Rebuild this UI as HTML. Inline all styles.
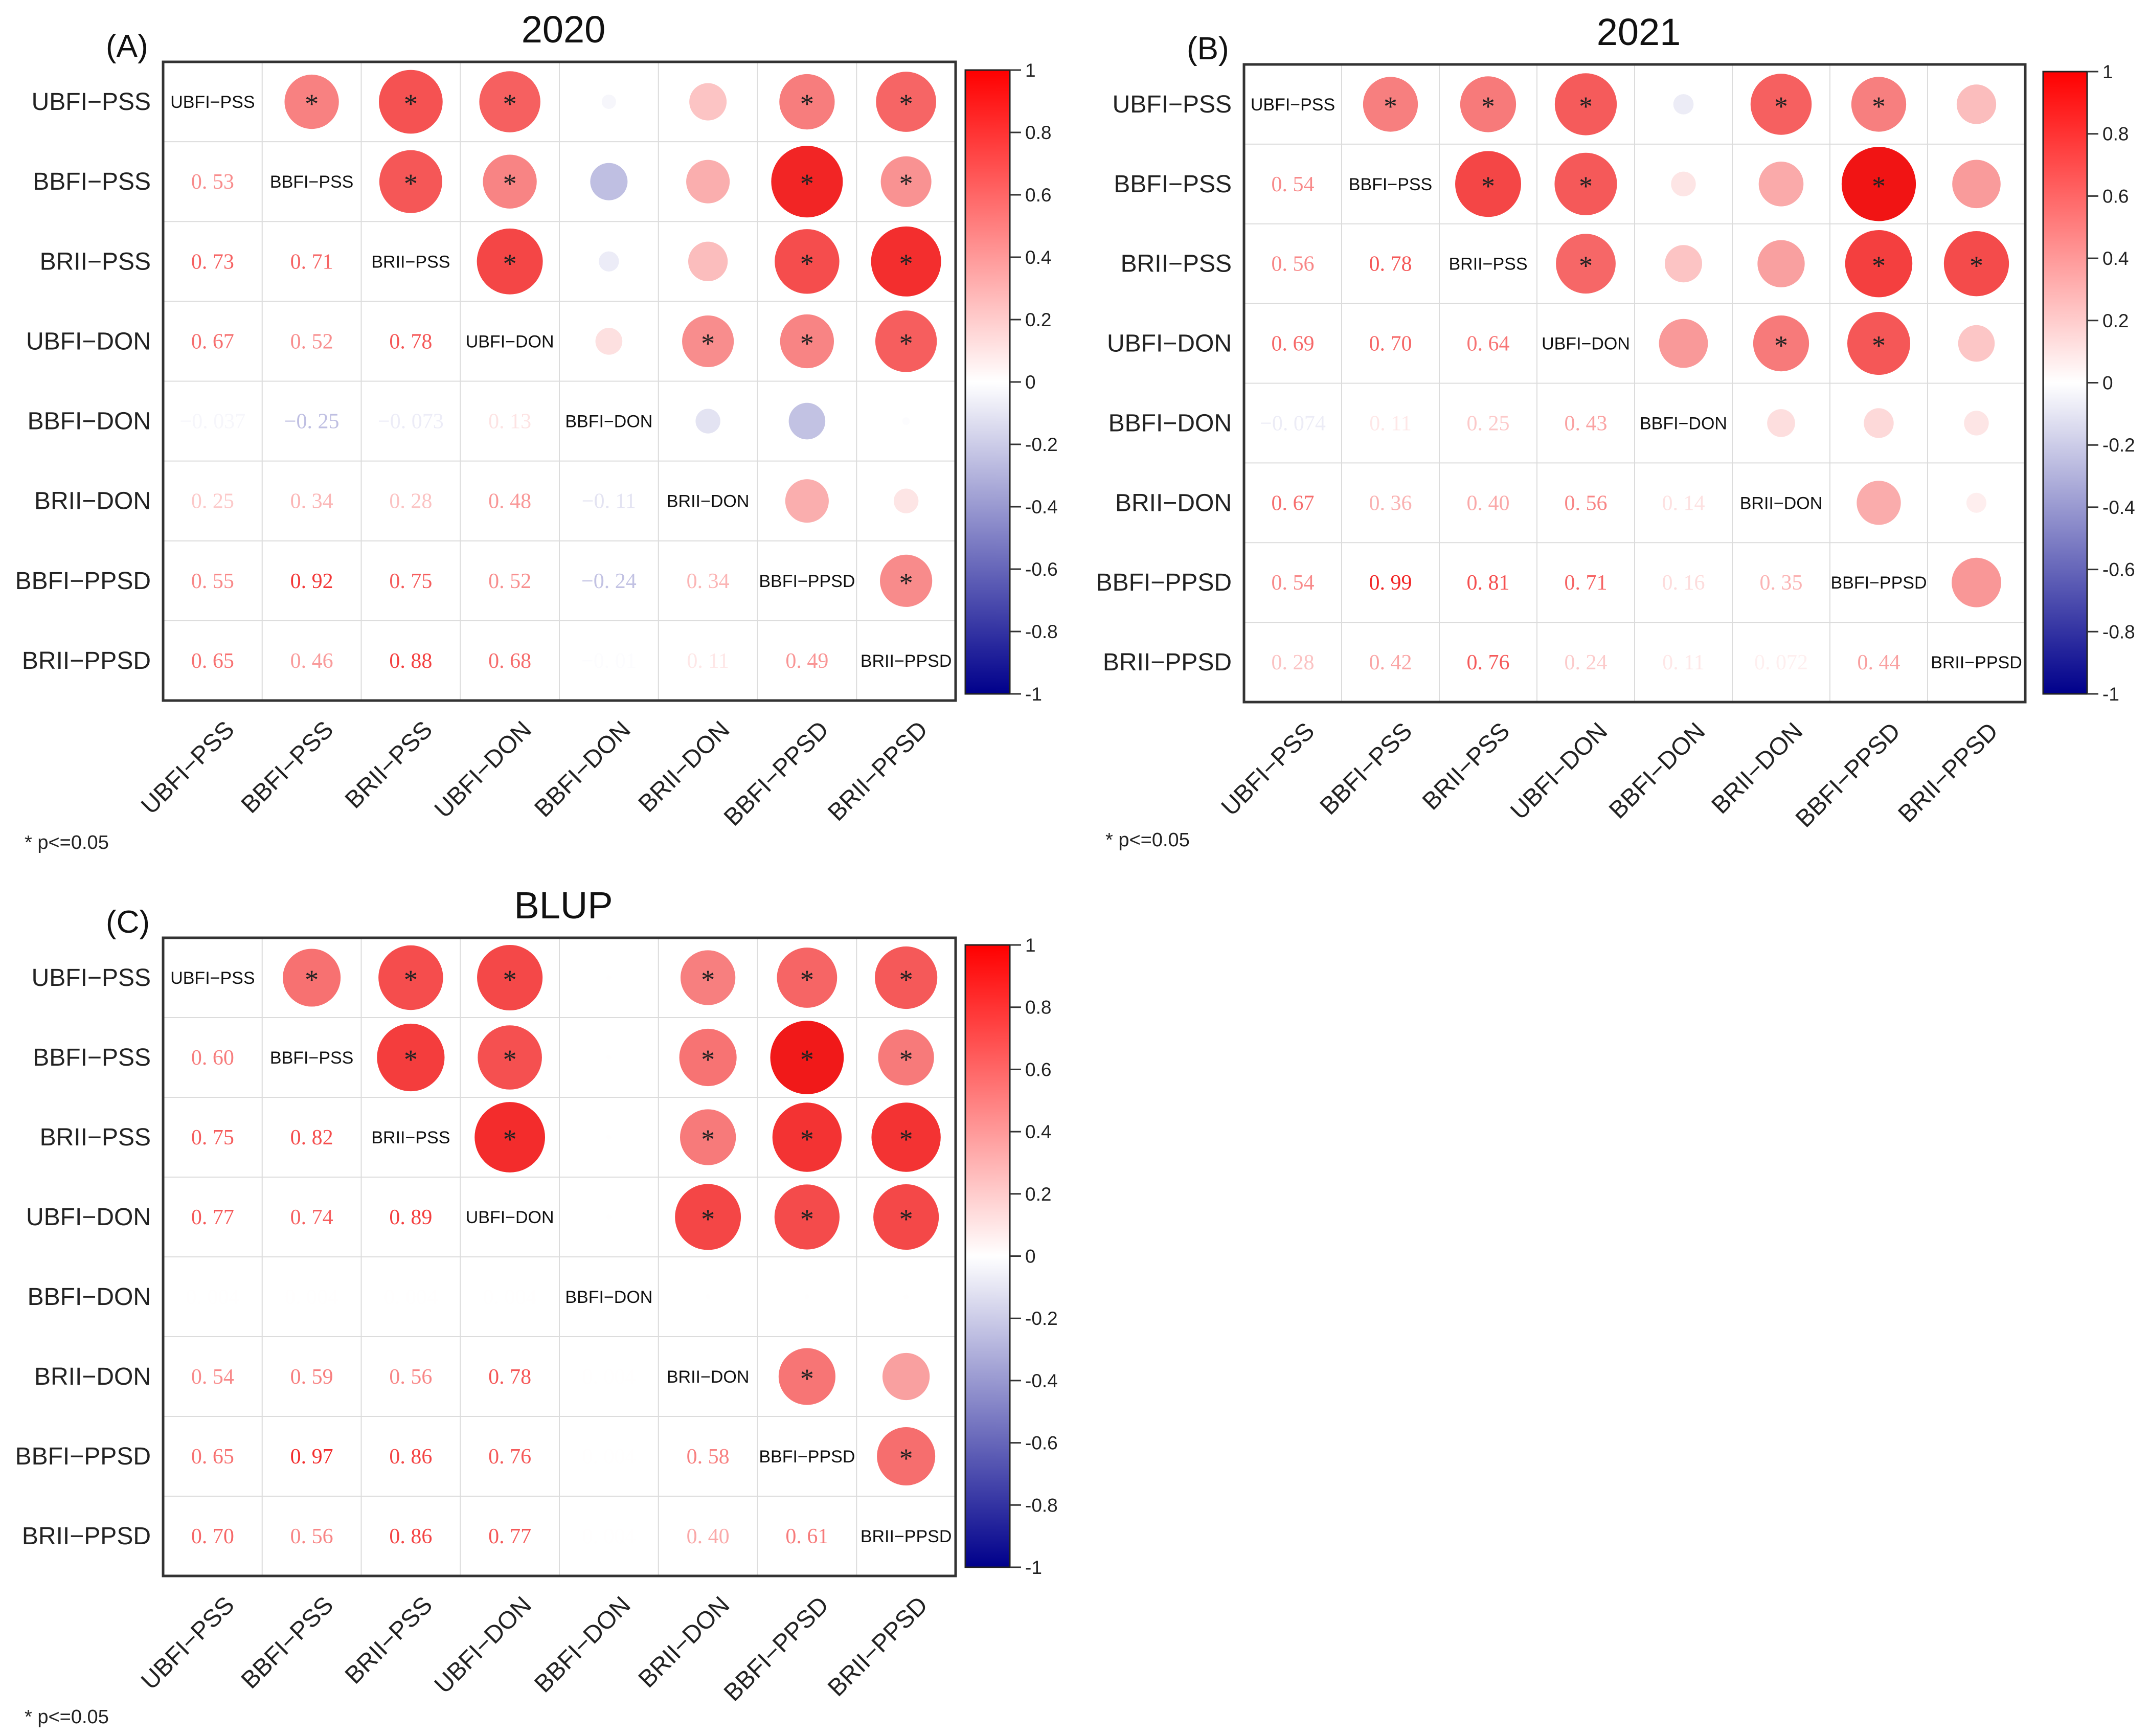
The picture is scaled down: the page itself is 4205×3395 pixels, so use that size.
<!DOCTYPE html>
<html><head><meta charset="utf-8"><style>
html,body{margin:0;padding:0;background:#fff;}
svg{display:block;font-family:"Liberation Sans",sans-serif;}
</style></head><body>
<svg id="fig" width="4205" height="3395" viewBox="0 0 4205 3395" xmlns="http://www.w3.org/2000/svg">
<defs>
<linearGradient id="cbgrad" x1="0" y1="0" x2="0" y2="1">
<stop offset="0" stop-color="#ff0000"/><stop offset="0.5" stop-color="#ffffff"/><stop offset="1" stop-color="#00008b"/>
</linearGradient>
</defs>
</svg>
<script>
const traits = ["UBFI−PSS","BBFI−PSS","BRII−PSS","UBFI−DON","BBFI−DON","BRII−DON","BBFI−PPSD","BRII−PPSD"];
const cbTicks = [1,0.8,0.6,0.4,0.2,0,-0.2,-0.4,-0.6,-0.8,-1];
// lower-triangle correlations (row i, cols 0..i-1)
const corr2020 = [[],[0.53],[0.73,0.71],[0.67,0.52,0.78],[-0.037,-0.25,-0.073,0.13],[0.25,0.34,0.28,0.48,-0.11],[0.55,0.92,0.75,0.52,-0.24,0.34],[0.65,0.46,0.88,0.68,-0.010,0.11,0.49]];
const corr2021 = [[],[0.54],[0.56,0.78],[0.69,0.70,0.64],[-0.074,0.11,0.25,0.43],[0.67,0.36,0.40,0.56,0.14],[0.54,0.99,0.81,0.71,0.16,0.35],[0.28,0.42,0.76,0.24,0.11,0.072,0.44]];
const corrBLUP = [[],[0.60],[0.75,0.82],[0.77,0.74,0.89],[0.004,0.004,0.004,0.004],[0.54,0.59,0.56,0.78,0.004],[0.65,0.97,0.86,0.76,0.004,0.58],[0.70,0.56,0.86,0.77,0.004,0.40,0.61]];
// significant pairs [row, col] in upper triangle
const sig2020 = [[0,1],[0,2],[0,3],[0,6],[0,7],[1,2],[1,3],[1,6],[1,7],[2,3],[2,6],[2,7],[3,5],[3,6],[3,7],[6,7]];
const sig2021 = [[0,1],[0,2],[0,3],[0,5],[0,6],[1,2],[1,3],[1,6],[2,3],[2,6],[2,7],[3,5],[3,6]];
const sigBLUP = [[0,1],[0,2],[0,3],[0,5],[0,6],[0,7],[1,2],[1,3],[1,5],[1,6],[1,7],[2,3],[2,5],[2,6],[2,7],[3,5],[3,6],[3,7],[5,6],[6,7]];

const NS="http://www.w3.org/2000/svg";
const svg=document.getElementById('fig');
function mk(tag,attrs,parent){const e=document.createElementNS(NS,tag);for(const k in attrs)e.setAttribute(k,attrs[k]);(parent||svg).appendChild(e);return e;}
function color(v,lite){v=Math.max(-1,Math.min(1,v));
 if(v>=0){const a=v*(lite?0.85:0.93);const g=Math.round(255*(1-a));return `rgb(${Math.round(255-15*a)},${g},${g})`;}
 const a=-v;return `rgb(${Math.round(255*(1-a))},${Math.round(255*(1-a))},${Math.round(255-(255-139)*a)})`;}
function fmt(v){const s=Math.abs(v)<0.1?v.toFixed(3).replace(/0$/,''):v.toFixed(2);return s.replace('-','−').replace('.', '. ');}

const panels=[
 {id:'a',tag:'(A)',title:'2020',x:319,y:121,w:1550,h:1249,cb:{x:1888,y:137,w:87,h:1220},data:corr2020,sig:sig2020,note:{x:48,y:1660}},
 {id:'b',tag:'(B)',title:'2021',x:2433,y:126,w:1528,h:1247,cb:{x:3996,y:140,w:86,h:1217},data:corr2021,sig:sig2021,note:{x:2162,y:1655}},
 {id:'c',tag:'(C)',title:'BLUP',x:319,y:1834,w:1550,h:1248,cb:{x:1888,y:1848,w:87,h:1217},data:corrBLUP,sig:sigBLUP,note:{x:48,y:3370}}
];
panels.forEach(p=>{
 const g=mk('g',{});
 
 
 const cw=p.w/8, ch=p.h/8;
 const xc=j=>p.x+cw*(j+0.5), yc=i=>p.y+ch*(i+0.5);
 const val=(i,j)=>i>j?p.data[i][j]:p.data[j][i];
 const t=mk('text',{x:p.x+p.w/2+8,y:p.y-38,'font-size':74,'text-anchor':'middle',fill:'#111'},g);t.textContent=p.title;
 
 const tg=mk('text',{x:p.x-112,y:p.y-10,'font-size':62,fill:'#111'},g);tg.textContent=p.tag;
 
 for(let k=1;k<8;k++){
  mk('line',{x1:p.x+cw*k,y1:p.y,x2:p.x+cw*k,y2:p.y+p.h,stroke:'#dcdcdc','stroke-width':2},g);
  mk('line',{x1:p.x,y1:p.y+ch*k,x2:p.x+p.w,y2:p.y+ch*k,stroke:'#dcdcdc','stroke-width':2},g);
 }
 for(let i=0;i<8;i++){
  const rl=mk('text',{x:p.x-24,y:yc(i)+16,'font-size':48,'text-anchor':'end',fill:'#222'},g);rl.textContent=traits[i];
  
  const xl=mk('text',{x:0,y:0,'font-size':48,'text-anchor':'end',fill:'#222',transform:`translate(${xc(i)+45},${p.y+p.h+60}) rotate(-45)`},g);xl.textContent=traits[i];
  
  const dl=mk('text',{x:xc(i),y:yc(i)+12,'font-size':34,'text-anchor':'middle',fill:'#111'},g);dl.textContent=traits[i];
  
  for(let j=0;j<8;j++){
   if(j<i){
    const v=val(i,j);
    const tv=mk('text',{x:xc(j),y:yc(i)+14,'font-size':42,'text-anchor':'middle',fill:color(v,true),'font-family':'"Liberation Serif",serif'},g);tv.textContent=fmt(v);
    
   } else if(j>i){
    const v=val(i,j);
    const c=mk('circle',{cx:xc(j),cy:yc(i),r:73*Math.sqrt(Math.abs(v)),fill:color(v)},g);
    
   }
  }
 }
 p.sig.forEach(([i,j])=>{
  const s=mk('text',{x:xc(j),y:yc(i)+22,'font-size':54,'text-anchor':'middle',fill:'#222','font-family':'"Liberation Serif",serif'},g);s.textContent='*';
  
 });
 mk('rect',{x:p.x,y:p.y,width:p.w,height:p.h,fill:'none',stroke:'#333','stroke-width':5},g);
 const cb=p.cb;
 const bar=mk('rect',{x:cb.x,y:cb.y,width:cb.w,height:cb.h,fill:'url(#cbgrad)',stroke:'#222','stroke-width':3},g);
 
 const cy=v=>cb.y+(1-v)/2*cb.h;
 cbTicks.forEach(v=>{
  mk('line',{x1:cb.x+cb.w,y1:cy(v),x2:cb.x+cb.w+22,y2:cy(v),stroke:'#333','stroke-width':3},g);
  const tl=mk('text',{x:cb.x+cb.w+30,y:cy(v)+13,'font-size':37,fill:'#222'},g);tl.textContent=String(v);
  
 });
 const n=mk('text',{x:p.note.x,y:p.note.y,'font-size':38,fill:'#222'},g);n.textContent='* p<=0.05';
 
});
</script>
</body></html>
